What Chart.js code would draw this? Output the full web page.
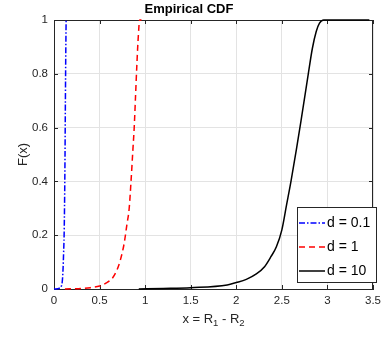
<!DOCTYPE html>
<html>
<head>
<meta charset="utf-8">
<script src="https://cdn.jsdelivr.net/npm/chart.js@4.4.1/dist/chart.umd.min.js"></script>
<style>
  html, body { margin: 0; padding: 0; background: #fff; }
  #wrap { width: 386px; height: 337px; }
</style>
</head>
<body>
<div id="wrap"><canvas id="cdfChart"></canvas></div>
<script>
    // values
    const seriesNames = ['d = 0.1', 'd = 1', 'd = 10'];

    const xD01 = [0, 0.06, 0.08, 0.09, 0.095, 0.1, 0.105, 0.111, 0.117, 0.121, 0.125, 0.129, 0.133];
    const yD01 = [0, 0.003, 0.01, 0.025, 0.046, 0.08, 0.13, 0.2, 0.35, 0.5, 0.7, 0.87, 1];

    const xD1 = [0.12, 0.3, 0.4, 0.5, 0.57, 0.64, 0.69, 0.73, 0.77, 0.8, 0.825, 0.845, 0.866, 0.88, 0.895, 0.91, 0.925, 0.94, 0.96];
    const yD1 = [0, 0.002, 0.005, 0.011, 0.022, 0.04, 0.07, 0.11, 0.17, 0.24, 0.3, 0.4, 0.52, 0.6, 0.72, 0.84, 0.94, 1, 1];

    const xD10 = [0.93, 1.2, 1.5, 1.9, 2.0, 2.11, 2.22, 2.31, 2.38, 2.44, 2.5, 2.55, 2.6, 2.66, 2.71, 2.79, 2.835, 2.877, 2.913, 2.96, 3.46];
    const yD10 = [0, 0.002, 0.005, 0.015, 0.024, 0.036, 0.056, 0.083, 0.12, 0.157, 0.22, 0.31, 0.4, 0.52, 0.625, 0.8, 0.895, 0.957, 0.988, 1, 1];

    const xTicks = [0, 0.5, 1, 1.5, 2, 2.5, 3, 3.5];
    const yTicks = [0, 0.2, 0.4, 0.6, 0.8, 1];

    const axisColor = '#262626';
    const gridColor = '#e3e3e3';
    const fontFamily = "'Liberation Sans', Arial, sans-serif";

    function toPoints(xs, ys) {
      return xs.map((x, i) => ({ x: x, y: ys[i] }));
    }

    const lineStyles = [
      { color: '#0000ff', dash: [6, 2, 1.5, 2] },
      { color: '#ff0000', dash: [6, 4] },
      { color: '#000000', dash: [] },
    ];

    // box + inward ticks like matlab, drawn under the lines
    const framePlugin = {
      id: 'frame',
      beforeDatasetsDraw(chart) {
        const { ctx, chartArea: a, scales } = chart;
        ctx.save();
        ctx.strokeStyle = axisColor;
        ctx.lineWidth = 1;
        ctx.beginPath();
        ctx.moveTo(a.left, a.top + 0.5);
        ctx.lineTo(a.right, a.top + 0.5);
        ctx.moveTo(a.right - 0.5, a.top);
        ctx.lineTo(a.right - 0.5, a.bottom);
        xTicks.forEach(v => {
          const px = Math.round(scales.x.getPixelForValue(v)) + 0.5;
          ctx.moveTo(px, a.bottom);
          ctx.lineTo(px, a.bottom - 4);
          ctx.moveTo(px, a.top);
          ctx.lineTo(px, a.top + 4);
        });
        yTicks.forEach(v => {
          const py = Math.round(scales.y.getPixelForValue(v)) + 0.5;
          ctx.moveTo(a.left, py);
          ctx.lineTo(a.left + 4, py);
          ctx.moveTo(a.right, py);
          ctx.lineTo(a.right - 4, py);
        });
        ctx.stroke();
        ctx.restore();
      },
      afterDraw(chart) {
        const { ctx, chartArea: a } = chart;
        ctx.save();
        // x label with subscripts
        const parts = [['x = R', false], ['1', true], [' - R', false], ['2', true]];
        const big = '13px ' + fontFamily;
        const small = '9.5px ' + fontFamily;
        let total = 0;
        parts.forEach(p => { ctx.font = p[1] ? small : big; total += ctx.measureText(p[0]).width; });
        let cx = (a.left + a.right) / 2 - total / 2;
        ctx.fillStyle = axisColor;
        ctx.textBaseline = 'alphabetic';
        ctx.textAlign = 'left';
        parts.forEach(p => {
          ctx.font = p[1] ? small : big;
          ctx.fillText(p[0], cx, p[1] ? 326 : 323);
          cx += ctx.measureText(p[0]).width;
        });

        // legend box inside axes, south-east
        const lx = 297, ly = 207, lw = 80, lh = 76;
        ctx.fillStyle = '#ffffff';
        ctx.fillRect(lx, ly, lw, lh);
        ctx.strokeStyle = axisColor;
        ctx.lineWidth = 1;
        ctx.strokeRect(lx + 0.5, ly + 0.5, lw - 1, lh - 1);
        ctx.font = '14px ' + fontFamily;
        ctx.textBaseline = 'middle';
        const rowY = [223, 247, 271];
        seriesNames.forEach((name, i) => {
          ctx.save();
          ctx.strokeStyle = lineStyles[i].color;
          ctx.lineWidth = 1.5;
          ctx.setLineDash(lineStyles[i].dash);
          ctx.beginPath();
          ctx.moveTo(299, rowY[i]);
          ctx.lineTo(325, rowY[i]);
          ctx.stroke();
          ctx.restore();
          ctx.fillStyle = '#000';
          ctx.fillText(name, 327, rowY[i] + 0.5);
        });
        ctx.restore();
      }
    };

    const ctx = document.getElementById('cdfChart').getContext('2d');
    const chart = new Chart(ctx, {
      type: 'line',
      data: {
        datasets: [
          { label: seriesNames[0], data: toPoints(xD01, yD01) },
          { label: seriesNames[1], data: toPoints(xD1, yD1) },
          { label: seriesNames[2], data: toPoints(xD10, yD10) },
        ].map((ds, i) => Object.assign(ds, {
          borderColor: lineStyles[i].color,
          borderDash: lineStyles[i].dash,
          borderWidth: 1.5,
          pointRadius: 0,
          fill: false,
          clip: 3,
          cubicInterpolationMode: 'monotone',
        })),
      },
      options: {
        responsive: true,
        maintainAspectRatio: false,
        animation: false,
        layout: { padding: { left: 0, right: 8, top: 0, bottom: 0 }, autoPadding: false },
        plugins: {
          legend: { display: false },
          tooltip: { enabled: false },
          title: {
            display: true,
            text: 'Empirical CDF',
            color: '#000',
            font: { family: fontFamily, size: 13, weight: 'bold', lineHeight: 1.2 },
            padding: { top: 2, bottom: 2.4 },
          },
        },
        scales: {
          x: {
            type: 'linear',
            min: 0,
            max: 3.5,
            afterFit(scale) { scale.height = 48; },
            afterBuildTicks(scale) { scale.ticks = xTicks.map(v => ({ value: v })); },
            grid: { color: gridColor, drawTicks: false },
            border: { display: true, color: axisColor, width: 1 },
            ticks: {
              color: axisColor,
              padding: 5,
              maxRotation: 0,
              font: { family: fontFamily, size: 11.5 },
              callback: v => String(v),
            },
          },
          y: {
            type: 'linear',
            min: 0,
            max: 1,
            afterFit(scale) { scale.width = 54; },
            afterBuildTicks(scale) { scale.ticks = yTicks.map(v => ({ value: v })); },
            grid: { color: gridColor, drawTicks: false },
            border: { display: true, color: axisColor, width: 1 },
            ticks: {
              color: axisColor,
              padding: 6,
              font: { family: fontFamily, size: 11.5 },
              callback: v => String(Math.round(v * 10) / 10),
            },
            title: {
              display: true,
              text: 'F(x)',
              color: axisColor,
              font: { family: fontFamily, size: 13, lineHeight: 1.2 },
              padding: { top: 16, bottom: 0 },
            },
          },
        },
      },
      plugins: [framePlugin],
    });
</script>
</body>
</html>
